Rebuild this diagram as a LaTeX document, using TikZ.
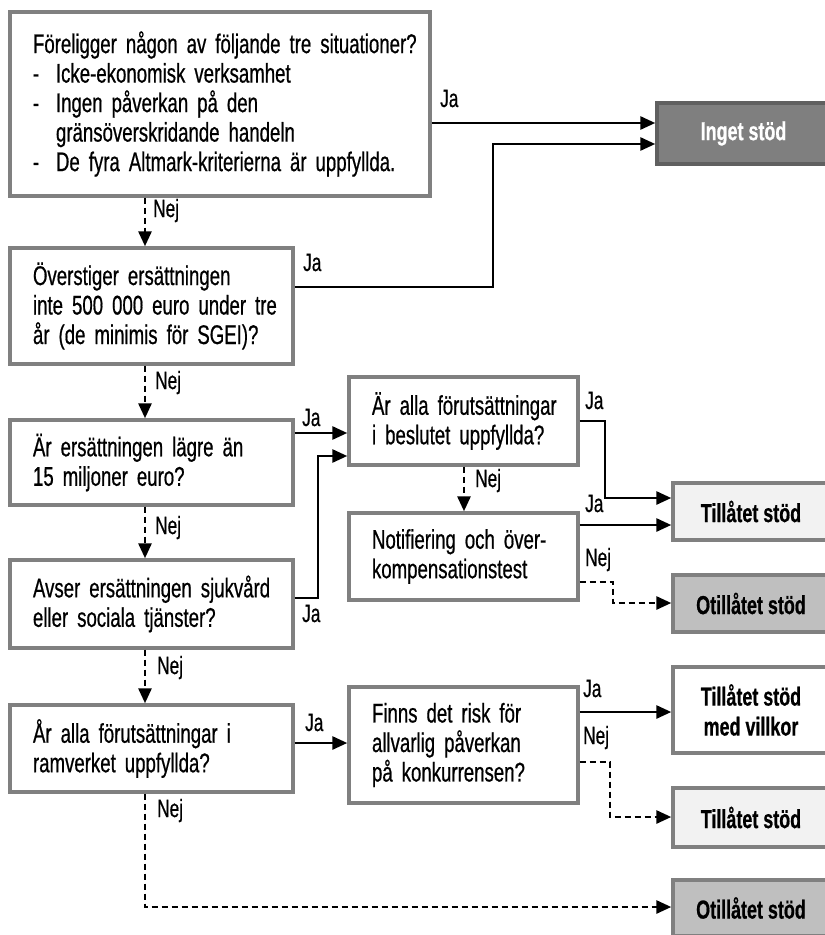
\documentclass[tikz,border=0pt]{standalone}
\usepackage{fontspec}
\setmainfont{Liberation Sans}[FakeStretch=0.69, FakeBold=0.6]
\usetikzlibrary{arrows.meta}
\definecolor{boxgray}{RGB}{128,128,128}
\definecolor{darkgrayfill}{RGB}{127,127,127}
\definecolor{darkgrayline}{RGB}{96,96,96}
\definecolor{lightfill}{RGB}{242,242,242}
\definecolor{midfill}{RGB}{191,191,191}
\newcommand\oneline[1]{\mbox{#1}}
\begin{document}
\begin{tikzpicture}[x=1pt,y=-1pt,
  qbox/.style={draw=boxgray, line width=3.4pt, fill=white, inner xsep=23pt, inner ysep=0pt,
    outer sep=1.7pt, align=left, font=\fontsize{27}{29.5}\selectfont},
  endbox/.style={draw=boxgray, line width=3.4pt, inner sep=0pt, outer sep=1.7pt, align=center,
    minimum width=156pt, font=\fontsize{26}{30}\selectfont\bfseries},
  lbl/.style={inner sep=0pt, anchor=base west, font=\fontsize{25}{26}\selectfont},
  yes/.style={draw, line width=2.8pt, -{Triangle[length=15pt,width=13pt]}},
  no/.style={yes, dash pattern=on 6pt off 4pt}
]
\useasboundingbox (0,0) rectangle (825,935);
\clip (0,0) rectangle (825,935);

% question boxes
\node[qbox, text width=374pt, minimum height=184pt] (q1) at (220,104)
  {\oneline{Föreligger någon av följande tre situationer?}\\
   \oneline{\makebox[23pt][l]{-}Icke-ekonomisk verksamhet}\\
   \oneline{\makebox[23pt][l]{-}Ingen påverkan på den}\\
   \oneline{\hspace*{23pt}gränsöverskridande handeln}\\
   \oneline{\makebox[23pt][l]{-}De fyra Altmark-kriterierna är uppfyllda.}};
\node[qbox, text width=237pt, minimum height=116pt] (q2) at (151.5,306)
  {\oneline{Överstiger ersättningen}\\\oneline{inte 500 000 euro under tre}\\\oneline{år (de minimis för SGEI)?}};
\node[qbox, text width=237pt, minimum height=85pt] (q3) at (151.5,462.5)
  {\oneline{Är ersättningen lägre än}\\\oneline{15 miljoner euro?}};
\node[qbox, text width=237pt, minimum height=88pt] (q4) at (151.5,604)
  {\oneline{Avser ersättningen sjukvård}\\\oneline{eller sociala tjänster?}};
\node[qbox, text width=237pt, minimum height=87pt] (q5) at (151.5,748.5)
  {\oneline{År alla förutsättningar i}\\\oneline{ramverket uppfyllda?}};
\node[qbox, text width=183pt, minimum height=88pt] (b1) at (463.5,421)
  {\oneline{Är alla förutsättningar}\\\oneline{i beslutet uppfyllda?}};
\node[qbox, text width=183pt, minimum height=87pt] (n1) at (463.5,556.5)
  {\oneline{Notifiering och över-}\\\oneline{kompensationstest}};
\node[qbox, text width=183pt, minimum height=116pt] (r1) at (463.5,745)
  {\oneline{Finns det risk för}\\\oneline{allvarlig påverkan}\\\oneline{på konkurrensen?}};

% outcome boxes
\node[endbox, draw=darkgrayline, fill=darkgrayfill, text=white, minimum width=173pt, minimum height=61pt] (t0) at (743.5,133.5) {Inget stöd};
\node[endbox, fill=lightfill, minimum height=57pt] (t1) at (751,511.5) {Tillåtet stöd};
\node[endbox, fill=midfill, minimum height=57pt] (t2) at (751,603.5) {Otillåtet stöd};
\node[endbox, fill=white, minimum height=86pt] (t3) at (751,710) {Tillåtet stöd\\med villkor};
\node[endbox, fill=lightfill, minimum height=59pt] (t4) at (751,817.5) {Tillåtet stöd};
\node[endbox, fill=midfill, minimum height=56pt] (t5) at (751,908) {Otillåtet stöd};

% connectors
\draw[yes] (q1.east |- 0,123) -- (t0.west |- 0,123);
\draw[yes] (q2.east |- 0,287) -| (493,144) -- (t0.west |- 0,144);
\draw[yes] (q3.east |- 0,433) -- (b1.west |- 0,433);
\draw[yes] (q4.east |- 0,598) -| (318,456) -- (b1.west |- 0,456);
\draw[yes] (q5.east |- 0,743) -- (r1.west |- 0,743);
\draw[yes] (b1.east |- 0,421) -| (605,498) -- (t1.west |- 0,498);
\draw[yes] (n1.east |- 0,525) -- (t1.west |- 0,525);
\draw[no]  (n1.east |- 0,582) -| (613,603) -- (t2.west |- 0,603);
\draw[yes] (r1.east |- 0,712) -- (t3.west |- 0,712);
\draw[no]  (r1.east |- 0,762) -| (610,817) -- (t4.west |- 0,817);
\draw[no]  (q1.south -| 145,0) -- (q2.north -| 145,0);
\draw[no]  (q2.south -| 145,0) -- (q3.north -| 145,0);
\draw[no]  (q3.south -| 145,0) -- (q4.north -| 145,0);
\draw[no]  (q4.south -| 145,0) -- (q5.north -| 145,0);
\draw[no]  (q5.south -| 145,0) |- (t5.west |- 0,907);
\draw[no]  (b1.south -| 464,0) -- (n1.north -| 464,0);

% labels
\node[lbl] (l1) at (440,107) {Ja};
\node[lbl] (l2) at (303,271) {Ja};
\node[lbl] (l3) at (302,426) {Ja};
\node[lbl] (l4) at (302,622) {Ja};
\node[lbl] (l5) at (305,731) {Ja};
\node[lbl] (l6) at (585,409) {Ja};
\node[lbl] (l7) at (585,512) {Ja};
\node[lbl] (l8) at (585,566) {Nej};
\node[lbl] (l9) at (583,697) {Ja};
\node[lbl] (l10) at (583,744) {Nej};
\node[lbl] (l11) at (153,217) {Nej};
\node[lbl] (l12) at (155,389) {Nej};
\node[lbl] (l13) at (155,534) {Nej};
\node[lbl] (l14) at (157,674) {Nej};
\node[lbl] (l15) at (157,817) {Nej};
\node[lbl] (l16) at (475,487) {Nej};
\end{tikzpicture}
\end{document}
